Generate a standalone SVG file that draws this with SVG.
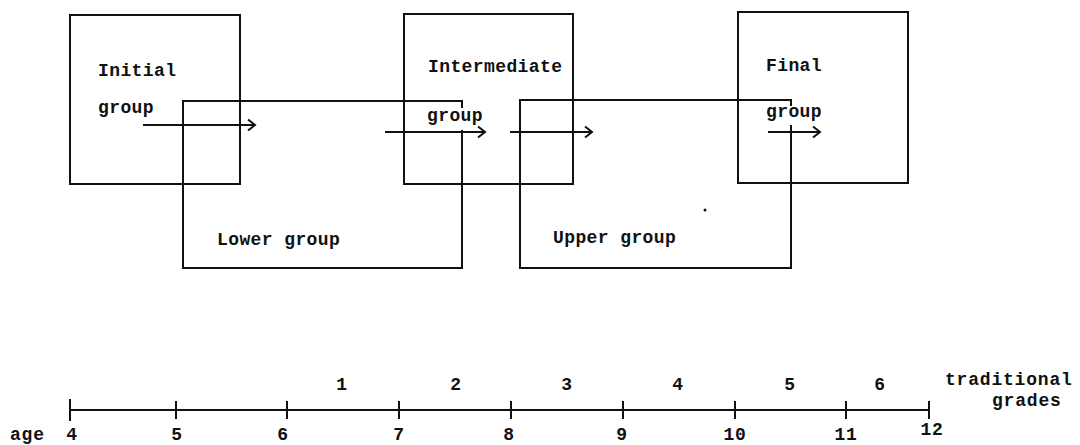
<svg xmlns="http://www.w3.org/2000/svg" width="1080" height="445" viewBox="0 0 1080 445">
<style>
.box{fill:none;stroke:#111;stroke-width:2}
.lbl{font-family:"Liberation Mono",monospace;font-size:18px;letter-spacing:0.4px;fill:#111;font-weight:bold}
.tl{font-family:"Liberation Mono",monospace;font-size:18px;letter-spacing:0.8px;fill:#111;font-weight:bold}
.arr{stroke:#111;stroke-width:2;fill:none;marker-end:url(#ah)}
.axis{stroke:#111;stroke-width:2;fill:none}
</style>
<defs>
<marker id="ah" viewBox="0 0 12 12" refX="10" refY="6" markerWidth="12" markerHeight="12" markerUnits="userSpaceOnUse" orient="auto">
<polyline points="3,0.5 10,6 3,11.5" fill="none" stroke="#111" stroke-width="2"/>
</marker>
</defs>
<rect width="1080" height="445" fill="#fff"/>
<g id="initial-group">
<rect class="box" x="70" y="15" width="170" height="169"/>
<text class="lbl" x="98" y="76">Initial</text>
<text class="lbl" x="98" y="113">group</text>
</g>
<g id="lower-group">
<path class="box" d="M462,108 L462,101 L183,101 L183,268 L462,268 L462,130"/>
<text class="lbl" x="217" y="245">Lower group</text>
</g>
<g id="intermediate-group">
<rect class="box" x="404" y="14" width="169" height="170"/>
<text class="lbl" x="428" y="72">Intermediate</text>
<text class="lbl" x="427" y="121">group</text>
</g>
<g id="upper-group">
<path class="box" d="M791,106 L791,100 L520,100 L520,268 L791,268 L791,125"/>
<text class="lbl" x="553" y="243">Upper group</text>
<circle cx="705" cy="210" r="1.5" fill="#111"/>
</g>
<g id="final-group">
<rect class="box" x="738" y="12" width="170" height="171"/>
<text class="lbl" x="766" y="71">Final</text>
<text class="lbl" x="766" y="117">group</text>
</g>
<g id="connectors">
<line class="arr" x1="143" y1="125" x2="255" y2="125"/>
<line class="arr" x1="385" y1="132" x2="485" y2="132"/>
<line class="arr" x1="510" y1="132" x2="592" y2="132"/>
<line class="arr" x1="768" y1="132" x2="820" y2="132"/>
</g>
<g id="timeline">
<line class="axis" x1="70" y1="410" x2="929" y2="410"/>
<path class="axis" d="M70,399 V421 M176,401 V419 M287,401 V419 M399,401 V419 M511,401 V419 M623,401 V419 M735,401 V419 M846,401 V419 M929,401 V419"/>
<g class="tl" text-anchor="middle">
<text x="342" y="390">1</text>
<text x="456" y="390">2</text>
<text x="567" y="390">3</text>
<text x="678" y="390">4</text>
<text x="790" y="390">5</text>
<text x="880" y="390">6</text>
<text x="72" y="440">4</text>
<text x="177" y="440">5</text>
<text x="283" y="440">6</text>
<text x="399" y="440">7</text>
<text x="509" y="440">8</text>
<text x="622" y="440">9</text>
<text x="735" y="440">10</text>
<text x="846" y="440">11</text>
<text x="932" y="435">12</text>
</g>
<g class="tl">
<text x="945" y="385">traditional</text>
<text x="992" y="406">grades</text>
<text x="10" y="440">age</text>
</g>
</g>
</svg>
